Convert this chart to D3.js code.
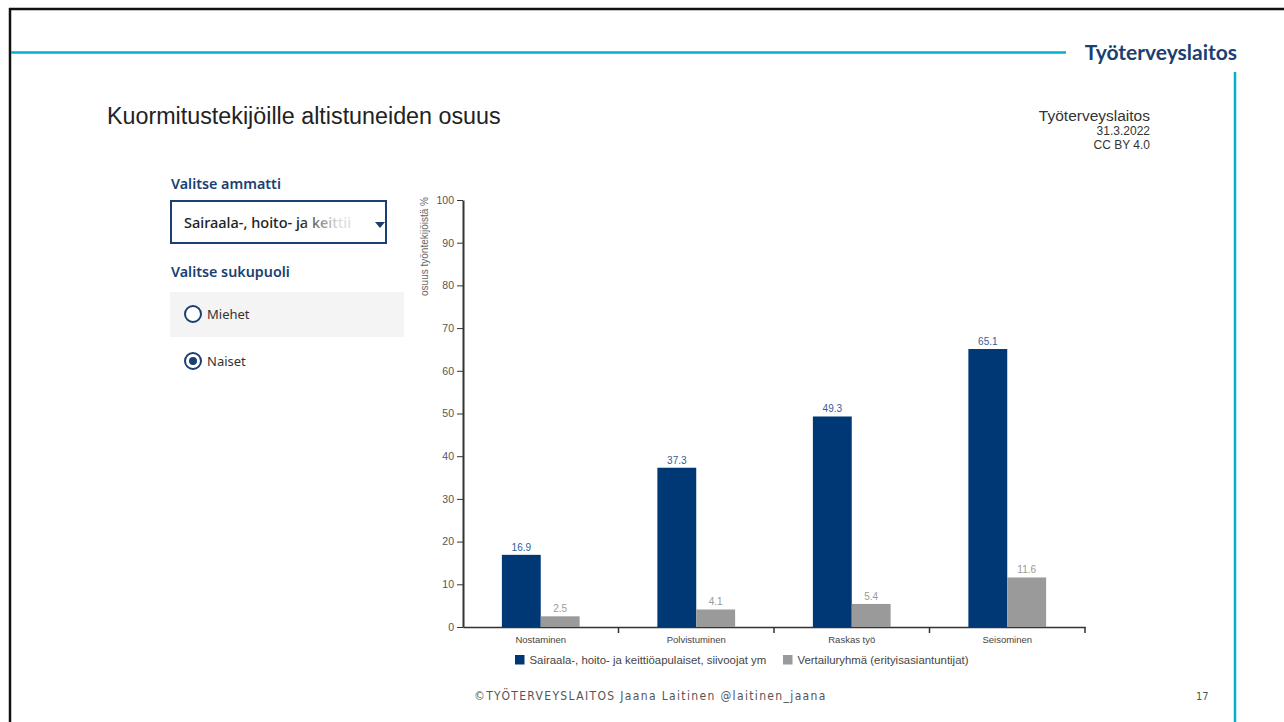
<!DOCTYPE html>
<html>
<head>
<meta charset="utf-8">
<script src="https://cdn.jsdelivr.net/npm/d3@7"></script>
<style>
  body { margin: 0; background: #fff; }
  svg { display: block; }
</style>
</head>
<body>
<svg width="1284" height="722"></svg>
<script>
const categories = ['Nostaminen', 'Polvistuminen', 'Raskas työ', 'Seisominen'];
const seriesNames = ['Sairaala-, hoito- ja keittiöapulaiset, siivoojat ym', 'Vertailuryhmä (erityisasiantuntijat)'];
const targetValues = [16.9, 37.3, 49.3, 65.1];
const compareValues = [2.5, 4.1, 5.4, 11.6];
const yTicks = [0, 10, 20, 30, 40, 50, 60, 70, 80, 90, 100];

const svg = d3.select('svg');
const width = +svg.attr('width');
const height = +svg.attr('height');

const navy = '#003876';
const grey = '#9a9a9a';
const brand = '#1b3f73';
const cyan = '#00b0cc';

// slide frame
svg.append('line').attr('x1', 9).attr('x2', width).attr('y1', 9).attr('y2', 9)
    .attr('stroke', '#111').attr('stroke-width', 2.5);
svg.append('line').attr('x1', 10).attr('x2', 10).attr('y1', 8).attr('y2', height)
    .attr('stroke', '#111').attr('stroke-width', 2.5);
svg.append('line').attr('x1', 11).attr('x2', 1066).attr('y1', 52.5).attr('y2', 52.5)
    .attr('stroke', cyan).attr('stroke-width', 2.5);
svg.append('line').attr('x1', 1235).attr('x2', 1235).attr('y1', 72).attr('y2', height)
    .attr('stroke', cyan).attr('stroke-width', 2.5);
svg.append('text').attr('x', 1237).attr('y', 60).attr('text-anchor', 'end')
    .attr('font-family', 'Lato, "Open Sans", sans-serif').attr('font-weight', 'bold')
    .attr('font-size', 21).attr('fill', brand).text('Työterveyslaitos');

// title and source
svg.append('text').attr('x', 107).attr('y', 124)
    .attr('font-family', '"Liberation Sans", Arial, sans-serif')
    .attr('font-size', 23.3).attr('fill', '#222').text('Kuormitustekijöille altistuneiden osuus');
const src = svg.append('g').attr('font-family', '"Liberation Sans", Arial, sans-serif')
    .attr('text-anchor', 'end').attr('fill', '#333');
src.append('text').attr('x', 1150).attr('y', 121).attr('font-size', 15.5).text('Työterveyslaitos');
src.append('text').attr('x', 1150).attr('y', 135).attr('font-size', 12).text('31.3.2022');
src.append('text').attr('x', 1150).attr('y', 149).attr('font-size', 12).text('CC BY 4.0');

// left controls
const panel = svg.append('g').attr('font-family', '"Noto Sans", "Open Sans", sans-serif');
panel.append('text').attr('x', 171).attr('y', 189).attr('font-size', 14.3).attr('font-weight', 600)
    .attr('fill', brand).text('Valitse ammatti');
panel.append('rect').attr('x', 171).attr('y', 201).attr('width', 215).attr('height', 42)
    .attr('fill', '#fff').attr('stroke', brand).attr('stroke-width', 2);
const fade = svg.append('defs').append('linearGradient').attr('id', 'fade')
    .attr('gradientUnits', 'userSpaceOnUse').attr('x1', 300).attr('x2', 338);
fade.append('stop').attr('offset', 0).attr('stop-color', '#222');
fade.append('stop').attr('offset', 1).attr('stop-color', '#ddd');
panel.append('text').attr('x', 184).attr('y', 228).attr('font-size', 14.5).attr('font-weight', 500)
    .attr('fill', 'url(#fade)').text('Sairaala-, hoito- ja keittii');
panel.append('path').attr('d', 'M375,222 L385,222 L380,228 Z').attr('fill', brand);
panel.append('text').attr('x', 171).attr('y', 277).attr('font-size', 14.3).attr('font-weight', 600)
    .attr('fill', brand).text('Valitse sukupuoli');
panel.append('rect').attr('x', 170).attr('y', 292).attr('width', 234).attr('height', 45).attr('fill', '#f4f4f4');
panel.append('circle').attr('cx', 193).attr('cy', 314).attr('r', 8)
    .attr('fill', '#fff').attr('stroke', brand).attr('stroke-width', 2);
panel.append('text').attr('x', 207).attr('y', 319).attr('font-size', 13).attr('fill', '#333').text('Miehet');
panel.append('circle').attr('cx', 193).attr('cy', 361).attr('r', 8)
    .attr('fill', '#fff').attr('stroke', brand).attr('stroke-width', 2);
panel.append('circle').attr('cx', 193).attr('cy', 361).attr('r', 4).attr('fill', brand);
panel.append('text').attr('x', 207).attr('y', 366).attr('font-size', 13).attr('fill', '#333').text('Naiset');

// chart
const x0 = 463, x1 = 1085, yBottom = 627, yTop = 200;
const x = d3.scaleBand().domain(categories).range([x0, x1]);
const bw = x.bandwidth();
const xs = d3.scaleBand().domain(seriesNames).range([bw * 0.25, bw * 0.75]);
const y = d3.scaleLinear().domain([0, 100]).range([yBottom, yTop]);
const color = d3.scaleOrdinal().domain(seriesNames).range([navy, grey]);
const labelColor = d3.scaleOrdinal().domain(seriesNames).range(['#2f5e9a', '#999']);

const chart = svg.append('g').attr('font-family', '"Liberation Sans", Arial, sans-serif');

const yAxis = chart.append('g').attr('transform', `translate(${x0},0)`)
    .call(d3.axisLeft(y).tickValues(yTicks).tickSize(6).tickSizeOuter(0).tickPadding(3));
yAxis.selectAll('text').attr('font-size', 10.5).attr('fill', '#555');
yAxis.selectAll('line').attr('stroke', '#333');
yAxis.select('.domain').attr('stroke', '#333').attr('stroke-width', 2);

chart.append('text').attr('transform', `translate(428,${yTop - 3}) rotate(-90)`)
    .attr('text-anchor', 'end').attr('font-size', 10).attr('fill', '#666')
    .text('osuus työntekijöistä %');

const xAxis = chart.append('g').attr('transform', `translate(0,${yBottom})`)
    .call(d3.axisBottom(x).tickSize(0).tickPadding(9));
xAxis.selectAll('text').attr('font-size', 9.5).attr('fill', '#444');
xAxis.select('.domain').attr('stroke', '#333').attr('stroke-width', 1.5);
xAxis.selectAll('.boundary').data(categories).join('line').attr('class', 'boundary')
    .attr('x1', d => x(d) + bw).attr('x2', d => x(d) + bw)
    .attr('y1', 0).attr('y2', 6).attr('stroke', '#333').attr('stroke-width', 1.5);

const rows = categories.map((c, i) => ({
  cat: c,
  vals: [
    { s: seriesNames[0], v: targetValues[i] },
    { s: seriesNames[1], v: compareValues[i] }
  ]
}));

const groups = chart.selectAll('.grp').data(rows).join('g').attr('class', 'grp')
    .attr('transform', d => `translate(${x(d.cat)},0)`);
groups.selectAll('rect').data(d => d.vals).join('rect')
    .attr('x', d => xs(d.s)).attr('width', xs.bandwidth())
    .attr('y', d => y(d.v)).attr('height', d => yBottom - y(d.v))
    .attr('fill', d => color(d.s));
groups.selectAll('text').data(d => d.vals).join('text')
    .attr('x', d => xs(d.s) + xs.bandwidth() / 2).attr('y', d => y(d.v) - 4)
    .attr('text-anchor', 'middle').attr('font-size', 10)
    .attr('fill', d => labelColor(d.s)).text(d => d.v);

// legend
const legendX = [515, 783];
const legend = chart.selectAll('.leg').data(seriesNames).join('g').attr('class', 'leg')
    .attr('transform', (d, i) => `translate(${legendX[i]},655)`);
legend.append('rect').attr('width', 9.5).attr('height', 9.5).attr('fill', d => color(d));
legend.append('text').attr('x', 14.5).attr('y', 9).attr('font-size', 11.4).attr('fill', '#444').text(d => d);

// footer
const foot = svg.append('g').attr('font-family', '"DejaVu Sans Condensed", "Liberation Sans Narrow", sans-serif')
    .attr('font-size', 12).attr('fill', '#555');
foot.append('text').attr('x', 474).attr('y', 700).attr('letter-spacing', 1.35)
    .text('©TYÖTERVEYSLAITOS Jaana Laitinen @laitinen_jaana');
foot.append('text').attr('x', 1196).attr('y', 700).attr('font-size', 11).text('17');
</script>
</body>
</html>
